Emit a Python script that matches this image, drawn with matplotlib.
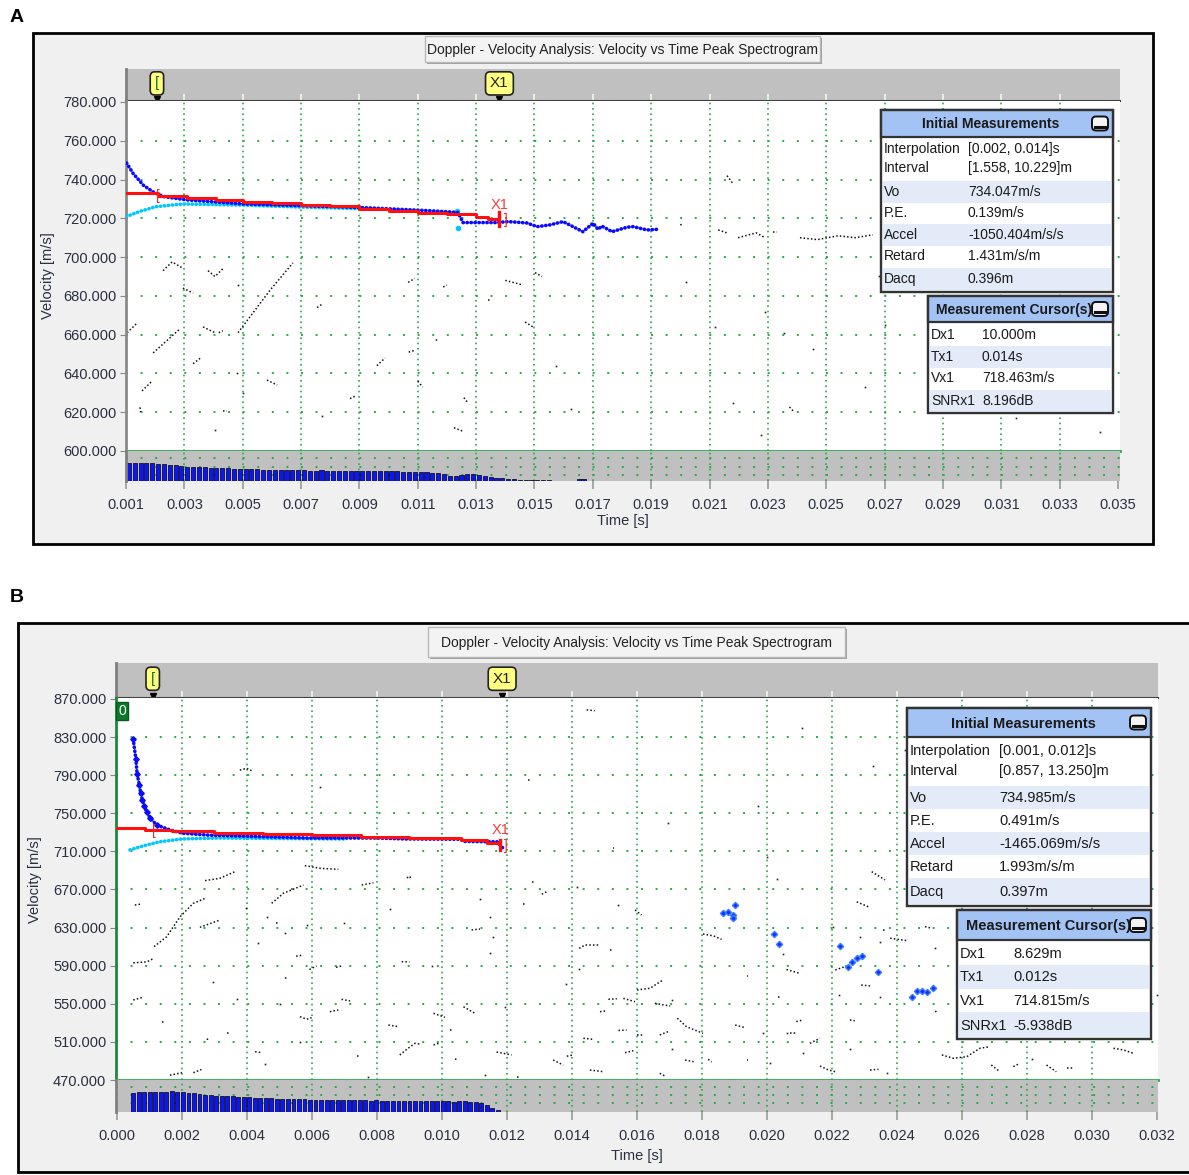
import numpy as np
import matplotlib.pyplot as plt
from matplotlib.patches import Rectangle, FancyBboxPatch

plt.rcParams['font.family'] = ['Liberation Sans', 'DejaVu Sans']

W, H = 1189, 1175
GREEN = '#2aa84a'
TXT = '#2a2f40'
titleText = "Doppler - Velocity Analysis: Velocity vs Time Peak Spectrogram"

# ---------------- panel A data ----------------
xTicksA = [0.001, 0.003, 0.005, 0.007, 0.009, 0.011, 0.013, 0.015, 0.017, 0.019,
           0.021, 0.023, 0.025, 0.027, 0.029, 0.031, 0.033, 0.035]
yTicksA = [600, 620, 640, 660, 680, 700, 720, 740, 760, 780]

blueTimeA = [0.00102, 0.00125, 0.0016, 0.00194, 0.00228, 0.00308, 0.00503, 0.00708, 0.00914,
             0.0113, 0.0121, 0.01238, 0.01255, 0.0137, 0.0141, 0.01474, 0.01509, 0.01553,
             0.01598, 0.01632, 0.01666, 0.01701, 0.01718, 0.01731, 0.01766, 0.01817, 0.01838,
             0.01886, 0.0192]
blueVelA = [748.5, 743, 737, 733.5, 731.2, 729.5, 727.4, 726.5, 725.5,
            724, 723.3, 723, 717.8, 717.8, 718.3, 717.6, 715.7, 716.6,
            718.3, 715.7, 713.1, 717.5, 714.3, 716, 713.1, 715.4, 715.7,
            714, 714.3]
cyanTimeA = [0.00101, 0.00146, 0.00203, 0.00294, 0.0050, 0.0070, 0.0090]
cyanVelA = [720.9, 723.5, 726, 727.4, 726.8, 725.8, 725]
cyanSpotTimeA = [0.01233, 0.01238]
cyanSpotVelA = [723.8, 714.8]
redTimeA = [0.0010, 0.0021, 0.0031, 0.0041, 0.0050, 0.0060, 0.0070, 0.0080, 0.0090,
            0.0100, 0.0110, 0.0120, 0.0130, 0.0134, 0.0138]
redVelA = [732.8, 731.3, 730.3, 729.3, 728.6, 727.8, 727.0, 726.1, 725.0,
           724.0, 722.9, 722.0, 720.6, 719.8, 719.2]

noiseA = [
    [(0.00104, 661), (0.00138, 666)], [(0.00148, 622.5), (0.0015, 620)],
    [(0.00155, 631), (0.00189, 636)], [(0.00193, 650.6), (0.00285, 663)],
    [(0.00227, 693), (0.00258, 697.5), (0.00292, 694.5)], [(0.00295, 684), (0.0033, 681.5)],
    [(0.0033, 645), (0.0036, 648.5)], [(0.00364, 664), (0.00405, 661)],
    [(0.00381, 693), (0.00405, 690), (0.00432, 694)], [(0.00418, 661), (0.00432, 662)],
    [(0.00405, 611)], [(0.00432, 620.5), (0.00445, 620.5)], [(0.0048, 640)],
    [(0.00484, 661), (0.00594, 683), (0.00672, 697)], [(0.00484, 685.6)], [(0.00501, 630)],
    [(0.00583, 636.6), (0.00618, 634)], [(0.00755, 674), (0.00775, 676)], [(0.00772, 618)],
    [(0.00868, 627), (0.00888, 628.5)], [(0.0096, 644), (0.00988, 648)],
    [(0.01067, 687), (0.0109, 689)], [(0.01187, 684.6), (0.012, 685.6)],
    [(0.0134, 678), (0.0135, 678)], [(0.0140, 688), (0.01461, 685.6)],
    [(0.01502, 692), (0.01526, 690)], [(0.01468, 666.5), (0.01495, 664)],
    [(0.01162, 657), (0.01166, 657.5)], [(0.01069, 651), (0.01093, 652)],
    [(0.011, 636), (0.01117, 633)], [(0.01258, 627.5), (0.01271, 625)],
    [(0.01224, 612), (0.01258, 610)], [(0.01573, 644)], [(0.01625, 621.7)],
    [(0.0200, 716.5), (0.02005, 717)], [(0.0202, 687)], [(0.0212, 664)],
    [(0.0213, 714), (0.0216, 712.5)], [(0.0216, 742), (0.0218, 738)],
    [(0.02198, 710), (0.0226, 712.5), (0.0229, 710)], [(0.02318, 713), (0.0233, 713)],
    [(0.02291, 671.7)], [(0.02356, 661)], [(0.0218, 625)], [(0.02275, 608)],
    [(0.02374, 622.7), (0.02391, 620)],
    [(0.0241, 710), (0.0247, 709), (0.0254, 711), (0.0260, 710), (0.0266, 711.5)],
    [(0.02455, 652.7)], [(0.02633, 633)], [(0.0270, 665)], [(0.0268, 690)],
    [(0.0315, 617)], [(0.03438, 610)],
]

snrA = [18, 18, 18, 18, 18,
        17.5, 17, 16.5, 16, 15,
        14.5, 14.5, 14, 14, 13.5,
        13.5, 13, 13, 12.5, 12.5,
        12, 12, 12, 11.5, 11.5,
        11.5, 11, 11.5, 11, 11,
        11, 10.5, 10.5, 11, 10.5,
        10.5, 10.5, 10, 10.5, 10,
        10, 10, 10.5, 10, 10,
        10, 10, 9.5, 9.5, 9.5,
        9, 9, 8.5, 8, 7,
        5, 5, 6, 7, 7,
        6, 5, 4, 3, 3,
        2, 2, 1.5, 1.5, 1,
        1, 1, 1]
snrStartA, snrStepA = 0.0011, 0.0002
snrExtraTimeA = [0.01652, 0.01668]
snrExtraA = [2.5, 2]

measA = [("Interpolation", "[0.002, 0.014]s"), ("Interval", "[1.558, 10.229]m"),
         ("Vo", "734.047m/s"), ("P.E.", "0.139m/s"), ("Accel", "-1050.404m/s/s"),
         ("Retard", "1.431m/s/m"), ("Dacq", "0.396m")]
cursA = [("Dx1", "10.000m"), ("Tx1", "0.014s"), ("Vx1", "718.463m/s"), ("SNRx1", "8.196dB")]

# ---------------- panel B data ----------------
xTicksB = [0.000, 0.002, 0.004, 0.006, 0.008, 0.010, 0.012, 0.014, 0.016, 0.018,
           0.020, 0.022, 0.024, 0.026, 0.028, 0.030, 0.032]
yTicksB = [470, 510, 550, 590, 630, 670, 710, 750, 790, 830, 870]

blueTimeB = [0.0005, 0.00058, 0.00062, 0.00069, 0.00073, 0.00078, 0.00084, 0.00091, 0.00102,
             0.00122, 0.00163, 0.00203, 0.00286, 0.0039, 0.0059, 0.008, 0.0089, 0.0106,
             0.0107, 0.0117, 0.0119]
blueVelB = [827.7, 807, 791, 779.7, 771, 764, 757.7, 751.7, 745,
            737.7, 732.5, 729, 727, 726, 724, 724, 723, 722.7,
            720.5, 720, 712.5]
cyanTimeB = [0.0004, 0.0008, 0.0013, 0.002, 0.0031, 0.005, 0.007]
cyanVelB = [711.5, 715.7, 720, 723, 724, 723.5, 723]
redTimeB = [0.0000, 0.00085, 0.0017, 0.0030, 0.0045, 0.0060, 0.0075, 0.0090, 0.0106, 0.0114, 0.0118]
redVelB = [734.2, 732.5, 731.4, 729.8, 728.3, 726.7, 725.3, 723.6, 722, 719.3, 719.3]

blueSpotTimeB = [0.01866, 0.01881, 0.01896, 0.01896, 0.019, 0.02022, 0.02038, 0.02225, 0.0225,
                 0.0226, 0.02276, 0.02291, 0.02342, 0.02445, 0.0246, 0.02476, 0.02491, 0.02512]
blueSpotVelB = [645, 646.7, 643.2, 639.8, 653.7, 623.3, 612.8, 610.7, 589,
                594.2, 597.8, 600.5, 583.7, 556.8, 563.8, 563, 562.2, 566.3]

noiseB = [
    [(0.00055, 653.7), (0.00076, 654.8)], [(0.0005, 593), (0.00092, 594), (0.00114, 597.8)],
    [(0.00114, 610), (0.00153, 620.4), (0.00194, 641.4), (0.00235, 655.5), (0.0027, 660.5)],
    [(0.0005, 554), (0.0008, 556.8)], [(0.00137, 530.6), (0.00145, 530.6)],
    [(0.00163, 475), (0.002, 477.7)], [(0.00235, 477.7), (0.0026, 481)],
    [(0.00255, 630.3), (0.00317, 638)], [(0.00276, 512.7), (0.00282, 513)], [(0.00296, 573)],
    [(0.00271, 679.3), (0.00317, 681.8), (0.00363, 688.7)], [(0.00337, 519), (0.00345, 519)],
    [(0.00368, 555)], [(0.00397, 650.3)], [(0.00425, 499.7), (0.00445, 498.7)],
    [(0.00455, 486.8)], [(0.00435, 613.5)], [(0.00461, 640.8)],
    [(0.00476, 655.5), (0.00512, 666), (0.00574, 674.7)], [(0.0049, 634.5), (0.0050, 634.5)],
    [(0.00517, 624)], [(0.00502, 549.8)], [(0.00517, 576.7), (0.00527, 578.4)],
    [(0.00551, 600), (0.00571, 601)], [(0.00563, 536.5), (0.00584, 533.8), (0.00599, 535.5)],
    [(0.00563, 510)], [(0.00584, 632.7)], [(0.00592, 586), (0.00614, 589.7)],
    [(0.00655, 541.7), (0.00681, 543.5)], [(0.00674, 588.3), (0.00691, 589.7)],
    [(0.00691, 554.7), (0.00717, 553)], [(0.00697, 635)], [(0.00737, 495), (0.00745, 495)],
    [(0.00753, 674.7), (0.00789, 677)], [(0.00773, 473.5)], [(0.0084, 649)],
    [(0.00835, 527.7), (0.00866, 526)],
    [(0.0087, 496.3), (0.00896, 503.3), (0.00917, 508.5), (0.00933, 507.7)],
    [(0.00876, 594.2), (0.0090, 594)], [(0.009, 682.8), (0.0091, 683)], [(0.00969, 590)],
    [(0.00974, 540), (0.01009, 535.8)], [(0.00974, 506.7), (0.00989, 508.5)],
    [(0.01025, 523), (0.01034, 523)], [(0.0104, 491.7), (0.0105, 492.7)],
    [(0.01066, 546.9), (0.01102, 539.9)], [(0.01091, 627.5), (0.01117, 628.5)],
    [(0.01117, 660.3)], [(0.01148, 640.8)], [(0.01158, 620.5)], [(0.01148, 603.7)],
    [(0.01132, 475)], [(0.01168, 499.4), (0.01214, 496.3)], [(0.01194, 546.3)],
    [(0.0123, 472.8), (0.0124, 472.8)], [(0.0125, 654.8), (0.01255, 654.8)],
    [(0.01276, 678.2), (0.01284, 678.2)], [(0.01307, 665), (0.01322, 667.7)],
    [(0.01266, 785), (0.01272, 785)], [(0.01342, 491), (0.01373, 485.7)], [(0.01381, 570.8)],
    [(0.01384, 495), (0.01404, 496.3)], [(0.01414, 672.3)],
    [(0.01422, 608.2), (0.0144, 611.7), (0.01482, 611.7)], [(0.01422, 586.2)],
    [(0.01435, 513.8), (0.01466, 512.7)], [(0.01455, 480.5), (0.01497, 478.7)],
    [(0.01486, 541.7), (0.01502, 542.4)], [(0.01512, 554.7), (0.01538, 555.3)],
    [(0.01517, 606), (0.01525, 606)], [(0.01527, 713.6), (0.0153, 713.6)],
    [(0.01445, 858.5), (0.0147, 857.7)], [(0.01543, 522), (0.01568, 522.5)], [(0.01543, 653.4)],
    [(0.01558, 555.7), (0.01594, 552.2)], [(0.01563, 498.7), (0.01589, 500.8)],
    [(0.01594, 648.5), (0.01614, 643.2)], [(0.016, 564.5), (0.0164, 566.3), (0.0168, 575)],
    [(0.016, 517.3), (0.0162, 517.3)], [(0.01655, 550.5), (0.01702, 547.7)],
    [(0.0167, 517.3), (0.01696, 520.8)], [(0.0167, 477), (0.0169, 473.5)], [(0.01696, 739.5)],
    [(0.01709, 554)], [(0.01709, 502.3)], [(0.01724, 534.8), (0.01752, 526), (0.01803, 519)],
    [(0.01748, 491), (0.01774, 489.2)], [(0.01803, 623.3), (0.01836, 621.2), (0.0186, 617.7)],
    [(0.01819, 491.7), (0.0183, 489)], [(0.01902, 527.7), (0.01932, 525)],
    [(0.01937, 579.2), (0.01943, 579.2)], [(0.01937, 491), (0.01943, 491)], [(0.01973, 757.7)],
    [(0.01989, 519)], [(0.02, 704.4)], [(0.0201, 487.5)], [(0.0203, 681)],
    [(0.02035, 557.5), (0.0204, 557.5)], [(0.0205, 602.3)], [(0.0206, 586), (0.021, 582)],
    [(0.0207, 519.7), (0.0209, 519.7)], [(0.0209, 531.3), (0.0211, 533)], [(0.02107, 839)],
    [(0.02327, 799.3)], [(0.02322, 688.7), (0.02363, 680)], [(0.02276, 657), (0.02312, 651.8)],
    [(0.02204, 630.3)], [(0.02286, 620.4)], [(0.02358, 627.5), (0.02362, 627.5)],
    [(0.02379, 618.8), (0.02434, 616.2)], [(0.02486, 631), (0.02507, 629.3)], [(0.02517, 608.3)],
    [(0.02348, 614.5)], [(0.0221, 585.5), (0.0224, 589)], [(0.0229, 569.7), (0.02317, 568.7)],
    [(0.02348, 556.8)], [(0.0222, 559.2)], [(0.02517, 541.7), (0.02527, 542.7)],
    [(0.02255, 533), (0.0227, 532.2)], [(0.0206, 519.7)], [(0.02132, 508.5), (0.02163, 513.8)],
    [(0.0211, 498.7)], [(0.02255, 502.3)], [(0.02163, 484.7), (0.02189, 480.5), (0.0221, 478.7)],
    [(0.02317, 480.5), (0.02343, 481.2)], [(0.02368, 477)],
    [(0.02538, 496.3), (0.02573, 492.8), (0.02615, 494.5), (0.02655, 503.3), (0.02686, 505)],
    [(0.0269, 485.7), (0.02717, 478.7)], [(0.02758, 484), (0.02774, 486.8)], [(0.02814, 491.7)],
    [(0.0286, 485.7), (0.0289, 478.7)], [(0.02922, 483), (0.02942, 483)],
    [(0.03066, 503.3), (0.03097, 501.5), (0.03127, 498)], [(0.0320, 559)], [(0.02425, 816.5)],
    [(0.00378, 795.4), (0.00399, 797.2), (0.00414, 794.7)], [(0.00625, 778)],
    [(0.00578, 695), (0.00625, 692.2), (0.00681, 691.2)], [(0.00891, 683.5)],
]

snrB = [19, 20, 20, 20, 20, 20,
        20.5, 21, 20.5, 20, 19.5, 19,
        18, 17.5, 17, 16.5, 16.5, 16,
        16, 15.5, 15.5, 15, 14.5, 14.5,
        14, 14, 13.5, 13.5, 13.5, 13,
        13, 13, 12.5, 12.5, 12.5, 12.5,
        12, 12.5, 12, 12, 12, 12,
        12, 11.5, 12, 11.5, 11.5, 11.5,
        11, 11.5, 11, 11, 11, 11,
        11, 11, 11, 11, 10.5, 11,
        11, 10.5, 10, 9, 7, 4, 2]
snrStartB, snrStepB = 0.0005, 0.00017

measB = [("Interpolation", "[0.001, 0.012]s"), ("Interval", "[0.857, 13.250]m"),
         ("Vo", "734.985m/s"), ("P.E.", "0.491m/s"), ("Accel", "-1465.069m/s/s"),
         ("Retard", "1.993m/s/m"), ("Dacq", "0.397m")]
cursB = [("Dx1", "8.629m"), ("Tx1", "0.012s"), ("Vx1", "714.815m/s"), ("SNRx1", "-5.938dB")]


def px(x0, y0, x1, y1):
    return [x0 / W, 1 - y1 / H, (x1 - x0) / W, (y1 - y0) / H]


fig = plt.figure(figsize=(W / 100, H / 100), dpi=100)
fig.patch.set_facecolor('white')
bg = fig.add_axes([0, 0, 1, 1], zorder=0)
fg = fig.add_axes([0, 0, 1, 1], zorder=10)
for a in (bg, fg):
    a.set_xlim(0, W)
    a.set_ylim(H, 0)
    a.axis('off')


def box(ax, x0, y0, x1, y1, **kw):
    ax.add_patch(Rectangle((x0, y0), x1 - x0, y1 - y0, **kw))


def drawPanel(frame, title, top, main, snr, xlim, ylim, snrMax, xticks, yticks,
              snrRows, leftColor, markers):
    box(bg, *frame, fc='#f0f0f0', ec='black', lw=2)
    tx0, ty0, tx1, ty1 = title
    box(bg, tx0 + 2, ty0 + 2, tx1 + 2, ty1 + 2, fc='#a0a0a0', ec='none')
    box(bg, tx0, ty0, tx1, ty1, fc='#f3f3f3', ec='#b8b8b8', lw=1)
    bg.text((tx0 + tx1) / 2, (ty0 + ty1) / 2 + 1, titleText, ha='center', va='center',
            fontsize=10, color='#222222')

    topAx = fig.add_axes(px(*top), zorder=2)
    mainAx = fig.add_axes(px(*main), zorder=2)
    snrAx = fig.add_axes(px(*snr), zorder=2)
    grid = xticks[1:-1]

    # marker bar
    topAx.set_facecolor('#c0c0c0')
    topAx.set_xlim(xlim)
    topAx.set_ylim(0, 1)
    topAx.set_yticks([])
    topAx.set_xticks(grid)
    topAx.tick_params(axis='x', direction='in', length=5, color='#f4f4f4', width=1.2,
                      labelbottom=False)
    for s in ['top', 'right']:
        topAx.spines[s].set_visible(False)
    topAx.spines['left'].set_color('#808080')
    topAx.spines['left'].set_linewidth(2)
    topAx.spines['bottom'].set_color('#404040')
    topAx.spines['bottom'].set_linewidth(1.5)
    for t, lab, col in markers:
        topAx.text(t, 0.55, lab, ha='center', va='center', fontsize=11, color=col,
                   bbox=dict(boxstyle='round,pad=0.3,rounding_size=0.3', fc='#ffff80',
                             ec='#222222', lw=1.2))
        topAx.plot([t], [0.07], marker='v', color='black', ms=4, clip_on=False)

    # main plot area
    mainAx.set_facecolor('white')
    mainAx.set_xlim(xlim)
    mainAx.set_ylim(ylim)
    mainAx.set_xticks([])
    mainAx.set_yticks(yticks)
    mainAx.set_yticklabels(['%.3f' % v for v in yticks])
    mainAx.tick_params(axis='y', length=4, color='#888888', labelsize=10.5,
                       labelcolor=TXT, pad=3)
    for s in ['top', 'right']:
        mainAx.spines[s].set_visible(False)
    mainAx.spines['left'].set_color(leftColor)
    mainAx.spines['left'].set_linewidth(2)
    mainAx.spines['bottom'].set_color(GREEN)
    mainAx.spines['bottom'].set_linewidth(2)
    for x in grid:
        mainAx.axvline(x, color=GREEN, lw=1.2, ls=(0, (1, 2.2)), zorder=0.5)
    for y in yticks[1:-1]:
        mainAx.axhline(y, color=GREEN, lw=1.4, ls=(0, (1, 6.5)), zorder=0.5)

    # SNR band
    snrAx.set_facecolor('#c0c0c0')
    snrAx.set_xlim(xlim)
    snrAx.set_ylim(0, snrMax)
    snrAx.set_yticks([])
    snrAx.set_xticks(xticks)
    snrAx.set_xticklabels(['%.3f' % v for v in xticks])
    snrAx.tick_params(axis='x', length=6, color='#9a9a9a', width=1.2, labelsize=10.5,
                      labelcolor=TXT, pad=6)
    for s in ['top', 'right', 'bottom']:
        snrAx.spines[s].set_visible(False)
    snrAx.spines['left'].set_color('#808080')
    snrAx.spines['left'].set_linewidth(2)
    for x in grid:
        snrAx.axvline(x, color=GREEN, lw=1.2, ls=(0, (1, 2.2)), zorder=0.5)
    for y in snrRows:
        snrAx.axhline(y, color=GREEN, lw=1.4, ls=(0, (1, 6.5)), zorder=0.5)
    return topAx, mainAx, snrAx


def infoBox(x0, y0, x1, y1, headH, head, rows, rowY, shaded, keyX, valX, fs):
    box(fg, x0, y0, x1, y1, fc='white', ec='#333333', lw=1.6, zorder=1)
    for ya, yb in shaded:
        box(fg, x0, ya, x1, yb, fc='#e3ebf9', ec='none', zorder=1.5)
    box(fg, x0, y0, x1, y0 + headH, fc='#a4c3f5', ec='#333333', lw=1.6, zorder=2)
    box(fg, x0, y0, x1, y1, fc='none', ec='#333333', lw=1.6, zorder=3)
    fg.text((x0 + x1) / 2 - 6, y0 + headH / 2 + 1, head, ha='center', va='center',
            fontsize=fs, fontweight='bold', color='#1a1a1a', zorder=4)
    ix = x1 - 21
    iy = y0 + headH / 2 - 7
    fg.add_patch(FancyBboxPatch((ix, iy), 16, 14, boxstyle='round,pad=0,rounding_size=4',
                                fc='#f4f4f4', ec='#111111', lw=1.4, zorder=4))
    fg.plot([ix + 3, ix + 13], [iy + 10, iy + 10], color='#111111', lw=2.2, zorder=5)
    for (k, v), y in zip(rows, rowY):
        fg.text(keyX, y, k, ha='left', va='center', fontsize=fs, color='#1a1a1a', zorder=4)
        fg.text(valX, y, v, ha='left', va='center', fontsize=fs, color='#1a1a1a', zorder=4)


def drawNoise(ax, traces):
    for tr in traces:
        ts = [p[0] for p in tr]
        vs = [p[1] for p in tr]
        if len(tr) == 1:
            ax.plot(ts, vs, 's', color='#222222', ms=1.2, mew=0, zorder=2)
        else:
            ax.plot(ts, vs, color='#111111', lw=1.1, ls=(0, (1, 1.4)), zorder=2)


def dotted(ax, t, v, color, lw, z):
    ax.plot(t, v, color=color, lw=lw, ls=(0, (0.1, 1.0)), dash_capstyle='round', zorder=z)


# ================= panel A =================
topA, axA, snrAxA = drawPanel((33, 33, 1153, 544), (425, 36, 820, 62),
                              (126, 69, 1120, 101), (126, 101, 1120, 451), (126, 451, 1120, 481),
                              (0.001, 0.03507), (600, 780.5), 30, xTicksA, yTicksA,
                              [23, 14, 6], '#8a8a8a',
                              [(0.00206, '[', '#0a6a2a'), (0.0138, 'X1', '#222222')])
drawNoise(axA, noiseA)
dotted(axA, cyanTimeA, cyanVelA, '#00c8ff', 2.6, 3)
axA.plot(cyanSpotTimeA, cyanSpotVelA, 'o', color='#00c8ff', ms=3, zorder=3)
dotted(axA, blueTimeA, blueVelA, '#0a0aff', 2.6, 4)
axA.plot(redTimeA, redVelA, color='#ff1010', lw=2.2, drawstyle='steps-post', zorder=5)
axA.text(0.0021, 731.5, '[', color='#ff2020', fontsize=10, ha='center', va='center', zorder=6)
axA.plot([0.0138, 0.0138], [716, 723], color='#ff1010', lw=2.4, zorder=6)
axA.text(0.01402, 719.3, ']', color='#ff2020', fontsize=10, ha='center', va='center', zorder=6)
axA.text(0.0138, 727, 'X1', color='#ff3a3a', fontsize=10.5, ha='center', va='center', zorder=6)

snrTimeA = [snrStartA + i * snrStepA for i in range(len(snrA))]
snrAxA.bar(snrTimeA, snrA, width=snrStepA * 0.7, color='#0a14ff', ec='black', lw=0.5, zorder=2)
snrAxA.bar(snrExtraTimeA, snrExtraA, width=snrStepA * 0.7, color='#0a14ff', ec='black', lw=0.5, zorder=2)

bg.text(623, 521, 'Time [s]', ha='center', va='center', fontsize=10.5, color=TXT)
bg.text(48, 276, 'Velocity [m/s]', ha='center', va='center', rotation=90, fontsize=10.5, color=TXT)

infoBox(881, 110, 1113, 292, 27, 'Initial Measurements', measA,
        [149, 168, 192, 213, 235, 256, 279], [(181, 203), (224, 246), (268, 290)], 884, 968, 10)
infoBox(928, 296, 1113, 413, 26, 'Measurement Cursor(s)', cursA,
        [335, 357, 378, 401], [(346, 368), (390, 412)], 931, 982, 10)

# ================= panel B =================
topB, axB, snrAxB = drawPanel((18, 623, 1200, 1172), (428, 627, 845, 657),
                              (116, 663, 1158, 698), (116, 698, 1158, 1080), (116, 1080, 1158, 1112),
                              (-0.00003, 0.03203), (470, 871), 32, xTicksB, yTicksB,
                              [25, 17, 9], '#1a8a3a',
                              [(0.0011, '[', '#0a6a2a'), (0.01185, 'X1', '#222222')])
drawNoise(axB, noiseB)
dotted(axB, cyanTimeB, cyanVelB, '#00c8ff', 2.6, 3)
dotted(axB, blueTimeB, blueVelB, '#0a0aff', 2.6, 4)
axB.plot(blueTimeB[:10], blueVelB[:10], 'D', color='#0a0aff', ms=2.8, zorder=4)
axB.plot(redTimeB, redVelB, color='#ff1010', lw=2.2, drawstyle='steps-post', zorder=5)
axB.plot(blueSpotTimeB, blueSpotVelB, 'D', color='#1030ff', mec='#3f7fff', ms=3.2, zorder=4)
axB.text(0.00114, 731.5, '[', color='#ff2020', fontsize=10, ha='center', va='center', zorder=6)
axB.plot([0.0118, 0.0118], [711, 722], color='#ff1010', lw=2.4, zorder=6)
axB.text(0.01196, 715.7, ']', color='#ff2020', fontsize=10, ha='center', va='center', zorder=6)
axB.text(0.0118, 732, 'X1', color='#ff3a3a', fontsize=10.5, ha='center', va='center', zorder=6)

snrTimeB = [snrStartB + i * snrStepB for i in range(len(snrB))]
snrAxB.bar(snrTimeB, snrB, width=snrStepB * 0.7, color='#0a14ff', ec='black', lw=0.5, zorder=2)

fg.text(122, 711, '0', ha='center', va='center', fontsize=10, color='white',
        bbox=dict(boxstyle='square,pad=0.15', fc='#0a7a2a', ec='#0a5a20', lw=1))

bg.text(637, 1156, 'Time [s]', ha='center', va='center', fontsize=10.5, color=TXT)
bg.text(35, 880, 'Velocity [m/s]', ha='center', va='center', rotation=90, fontsize=10.5, color=TXT)

infoBox(907, 708, 1151, 906, 29, 'Initial Measurements', measB,
        [751, 771, 798, 821, 844, 867, 892], [(786, 809), (832, 855), (878, 904)], 910, 999, 10.5)
infoBox(957, 910, 1151, 1039, 30, 'Measurement Cursor(s)', cursB,
        [954, 977, 1001, 1026], [(965, 989), (1012, 1037)], 960, 1013, 10.5)

# panel letters
bg.text(10, 18, 'A', ha='left', va='center', fontsize=14, fontweight='bold', color='black')
bg.text(10, 598, 'B', ha='left', va='center', fontsize=14, fontweight='bold', color='black')

fig.savefig('out.png', dpi=100, facecolor='white')
